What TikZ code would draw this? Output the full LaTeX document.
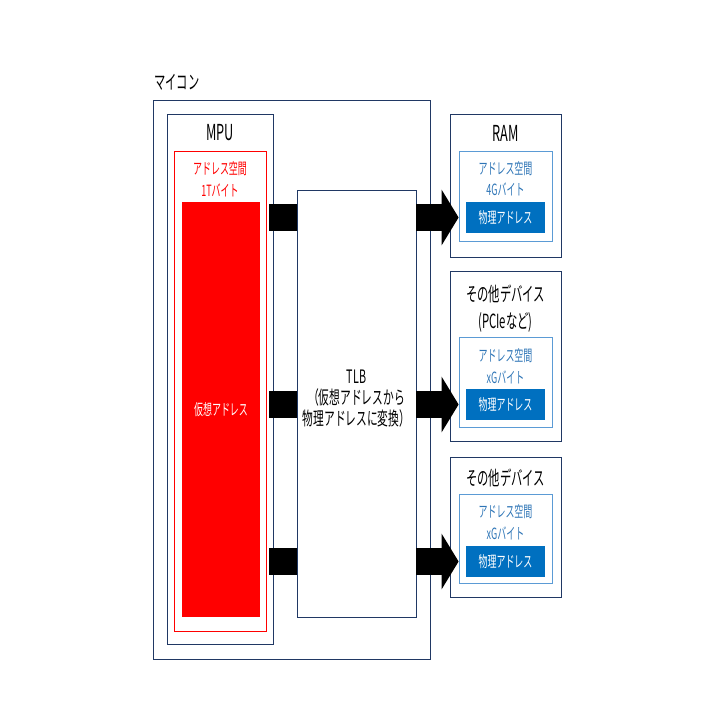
\documentclass[tikz,border=0pt]{standalone}
\usepackage{fontspec}
\setmainfont{Noto Sans CJK JP}[FakeStretch=0.58]
\usetikzlibrary{arrows.meta}
\usetikzlibrary{calc}

\definecolor{frame}{RGB}{32,56,100}
\definecolor{physblue}{RGB}{0,112,192}
\definecolor{spaceline}{RGB}{91,155,213}
\definecolor{spacetext}{RGB}{46,117,182}

\begin{document}
\begin{tikzpicture}
			[x=1pt, y=-1pt,
			box/.style={rectangle, draw=frame, line width=0.8pt, inner sep=0pt},
			redspace/.style={rectangle, draw=red, line width=0.6pt, inner sep=0pt},
			bluespace/.style={rectangle, draw=spaceline, line width=0.8pt, inner sep=0pt},
			phys/.style={rectangle, fill=physblue, text=white, inner sep=0pt, minimum width=79pt, minimum height=31pt, font=\fontsize{15.5}{20}\selectfont},
			biglabel/.style={align=center, inner sep=0pt, font=\fontsize{19.5}{27}\selectfont},
			latinlabel/.style={inner sep=0pt, font=\fontsize{22}{27}\selectfont},
			smalllabel/.style={align=center, inner sep=0pt, font=\fontsize{15.5}{21.5}\selectfont},
			bar/.style={line width=27.5pt, black},
			bigarrow/.style={line width=27.5pt, black, -{Triangle[length=17pt, width=55pt]}}]
			
			\useasboundingbox (0,0) rectangle (720,720);
			
			% microcontroller
			\node[box, minimum width=277pt, minimum height=559pt] (mcu) at (291.5,379.5) {};
			\node[biglabel, anchor=west] (mcutitle) at (154,82) {マイコン};
			
			\node[box, minimum width=106pt, minimum height=530pt] (mpu) at (220,379) {};
			\node[latinlabel] (mputitle) at (220,133) {MPU};
			\node[redspace, minimum width=92pt, minimum height=480pt] (vspace) at (220,391) {};
			\node[smalllabel, text=red] (vsize) at (220,179) {アドレス空間\\1Tバイト};
			\node[rectangle, fill=red, text=white, inner sep=0pt, minimum width=78pt, minimum height=415pt, font=\fontsize{15.5}{20}\selectfont] (vaddr) at (221,409.5) {仮想アドレス};
			
			\node[box, minimum width=119pt, minimum height=427pt] (tlb) at (356.5,403.5) {};
			\node[align=center, inner sep=0pt, font=\fontsize{18.5}{21}\selectfont] (tlbtext) at (356.5,398.5) {TLB\\（仮想アドレスから\\物理アドレスに変換）};
			
			% devices
			\node[box, minimum width=111pt, minimum height=143pt] (ram) at (505.5,185.5) {};
			\node[latinlabel] (ramtitle) at (505.5,133) {RAM};
			\node[bluespace, minimum width=93pt, minimum height=90pt] (space1) at (505.5,196) {};
			\node[smalllabel, text=spacetext] (size1) at (505.5,178.5) {アドレス空間\\4Gバイト};
			\node[phys] (phys1) at (505.5,217.5) {物理アドレス};
			
			\node[box, minimum width=111pt, minimum height=170pt] (pcie) at (505.5,356) {};
			\node[biglabel] (pcietitle) at (505.5,308.5) {その他デバイス\\(PCIeなど)};
			\node[bluespace, minimum width=93pt, minimum height=90pt] (space2) at (505.5,382) {};
			\node[smalllabel, text=spacetext] (size2) at (505.5,366) {アドレス空間\\xGバイト};
			\node[phys] (phys2) at (505.5,404.5) {物理アドレス};
			
			\node[box, minimum width=111pt, minimum height=140pt] (other) at (505.5,527) {};
			\node[biglabel] (othertitle) at (505.5,478) {その他デバイス};
			\node[bluespace, minimum width=93pt, minimum height=89pt] (space3) at (505.5,538.5) {};
			\node[smalllabel, text=spacetext] (size3) at (505.5,522) {アドレス空間\\xGバイト};
			\node[phys] (phys3) at (505.5,561.5) {物理アドレス};
			
			% MPU -> TLB -> devices
			\foreach \p/\s in {phys1/space1, phys2/space2, phys3/space3}{
				\draw[bar] ($(mpu.east |- \p)+(-4,0)$) -- (tlb.west |- \p);
				\draw[bigarrow] (tlb.east |- \p) -- (\s.west |- \p);
			}
		\end{tikzpicture}
\end{document}
